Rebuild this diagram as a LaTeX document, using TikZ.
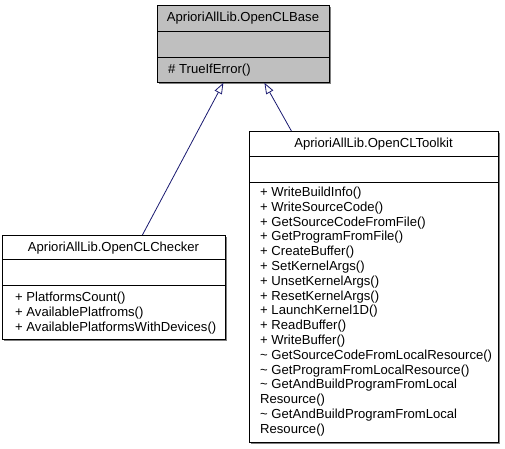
\documentclass[tikz,border=0pt]{standalone}
\usepackage{fontspec}
\setmainfont{Liberation Sans}
\usetikzlibrary{arrows.meta}
\definecolor{edgeblue}{HTML}{191970}
\definecolor{basefill}{HTML}{BFBFBF}
\definecolor{shadowgray}{HTML}{7F7F7F}
\begin{document}
\begin{tikzpicture}[x=1pt,y=-1pt,
  font=\fontsize{13.1}{14.8}\selectfont,
  boxline/.style={draw=black, line width=0.8pt},
  clsbox/.style={boxline, anchor=north west, inner sep=0pt},
  shade/.style={fill=shadowgray},
  lbl/.style={anchor=base west, inner sep=0pt},
  ttl/.style={anchor=base, inner sep=0pt},
  inh/.style={draw=edgeblue, line width=0.8pt, -{Triangle[open, length=11pt, width=8pt]}}]
\useasboundingbox (0,0) rectangle (505,448);

% shadows
\fill[shade] (159,7) rectangle (331,84);
\fill[shade] (4,237) rectangle (227,341);
\fill[shade] (251,133) rectangle (500,444);

% boxes
\node[clsbox, fill=basefill, minimum width=172pt, minimum height=77pt] (base) at (157,5) {};
\node[clsbox, fill=white, minimum width=223pt, minimum height=104pt] (checker) at (2,235) {};
\node[clsbox, fill=white, minimum width=249pt, minimum height=311pt] (toolkit) at (249,131) {};

% dividers
\draw[boxline] (157,31) -- (329,31);
\draw[boxline] (157,57) -- (329,57);
\draw[boxline] (2,259) -- (225,259);
\draw[boxline] (2,285) -- (225,285);
\draw[boxline] (249,156) -- (498,156);
\draw[boxline] (249,182) -- (498,182);

% titles
\node[ttl] (basettl) at (243,21.5) {AprioriAllLib.OpenCLBase};
\node[ttl] (checkerttl) at (113.5,251.5) {AprioriAllLib.OpenCLChecker};
\node[ttl] (toolkitttl) at (373.5,147.5) {AprioriAllLib.OpenCLToolkit};

% members
\node[lbl] (basem) at (168,73.5) {\# TrueIfError()};

\foreach \t [count=\i from 0] in {+ PlatformsCount(), + AvailablePlatfroms(), + AvailablePlatformsWithDevices()}
  \node[lbl] (ck\i) at (15,{301.5+15*\i}) {\t};

\foreach \t [count=\i from 0] in {+ WriteBuildInfo(), + WriteSourceCode(), + GetSourceCodeFromFile(), + GetProgramFromFile(), + CreateBuffer(), + SetKernelArgs(), + UnsetKernelArgs(), + ResetKernelArgs(), + LaunchKernel1D(), + ReadBuffer(), + WriteBuffer(), {\textasciitilde{} GetSourceCodeFromLocalResource()}, {\textasciitilde{} GetProgramFromLocalResource()}, {\textasciitilde{} GetAndBuildProgramFromLocal}, {Resource()}, {\textasciitilde{} GetAndBuildProgramFromLocal}, {Resource()}}
  \node[lbl] (tk\i) at (260,{196.5+14.8*\i}) {\t};

% inheritance
\draw[inh] ([xshift=28.5pt]checker.north) -- ([xshift=-20pt]base.south);
\draw[inh] ([xshift=-82.5pt]toolkit.north) -- ([xshift=21pt]base.south);
\end{tikzpicture}
\end{document}
